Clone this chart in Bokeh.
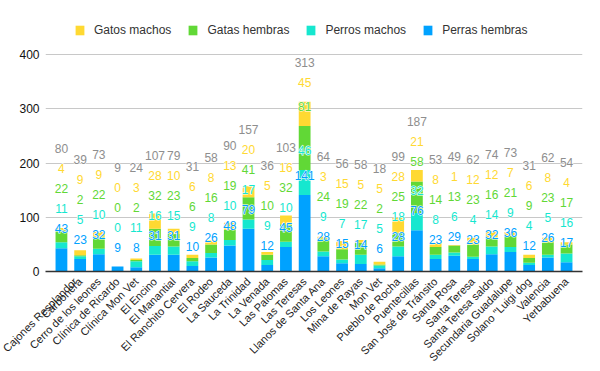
import math
from bokeh.plotting import figure
from bokeh.models import (FactorRange, Range1d, FixedTicker, Legend, LegendItem,
                          ColumnDataSource)
from bokeh.embed import file_html
from bokeh.resources import INLINE
from bokeh.core.properties import value

categories = [
    "Cajones Resplandor", "Carbonera", "Cerro de los leones", "Clínica de Ricardo",
    "Clínica Mon Vet", "El Encino", "El Manantial", "El Ranchito Cervera",
    "El Rodeo", "La Sauceda", "La Trinidad", "La Venada", "Las Palomas",
    "Las Teresas", "Llanos de Santa Ana", "Los Leones", "Mina de Rayas",
    "Mon Vet", "Pueblo de Rocha", "Puentecillas", "San José de Tránsito",
    "Santa Rosa", "Santa Teresa", "Santa Teresa saldo", "Secundaria Guadalupe",
    "Solano \"Luigi dog", "Valencia", "Yerbabuena",
]
perras_hembras = [43, 23, 32, 9, 8, 31, 31, 10, 26, 48, 79, 12, 45, 141, 28, 15, 14, 6, 28, 76, 23, 29, 23, 32, 36, 12, 26, 17]
perros_machos = [11, 5, 10, 0, 11, 16, 15, 9, 8, 10, 17, 9, 10, 46, 9, 7, 17, 5, 18, 32, 8, 6, 4, 14, 9, 4, 5, 16]
gatas_hembras = [22, 2, 22, 0, 2, 32, 23, 6, 16, 19, 41, 10, 32, 81, 24, 19, 22, 2, 25, 58, 14, 13, 23, 16, 21, 9, 23, 17]
gatos_machos = [4, 9, 9, 0, 3, 28, 10, 6, 8, 13, 20, 5, 16, 45, 3, 15, 5, 5, 28, 21, 8, 1, 12, 12, 7, 6, 8, 4]
totales = [80, 39, 73, 9, 24, 107, 79, 31, 58, 90, 157, 36, 103, 313, 64, 56, 58, 18, 99, 187, 53, 49, 62, 74, 73, 31, 62, 54]
y_ticks = [0, 100, 200, 300, 400]

series_names = ["Perras hembras", "Perros machos", "Gatas hembras", "Gatos machos"]
series_values = [perras_hembras, perros_machos, gatas_hembras, gatos_machos]
colors = ["#00A2FF", "#16E7CF", "#61D836", "#FFD932"]
total_color = "#8E8E8E"
FONT = "Liberation Sans"

W, H = 600, 371
B_LEFT, B_RIGHT, B_TOP, B_BOTTOM = 45, 18, 10, 100
AXIS_SPAN_PX = 217          # pixels between 0 and 400
Y_MAX = 400
FRAME_H = H - B_TOP - B_BOTTOM
ppu = AXIS_SPAN_PX / Y_MAX
Y_END = FRAME_H / ppu       # frame extends above 400 to host the legend

src = ColumnDataSource(dict(cat=categories, **{n: v for n, v in zip(series_names, series_values)}))

p = figure(width=W, height=H,
           x_range=FactorRange(*categories),
           y_range=Range1d(0, Y_END), output_backend="svg", toolbar_location=None,
           min_border_left=B_LEFT, min_border_right=B_RIGHT,
           min_border_top=B_TOP, min_border_bottom=B_BOTTOM)
p.x_range.range_padding = 0.352
p.x_range.range_padding_units = "absolute"
p.outline_line_color = None
p.background_fill_color = "white"

rs = p.vbar_stack(series_names, x="cat", width=0.63, color=colors, source=src,
                  line_color=None)

# labels with collision shift (as in reference)
off = 19.5 / ppu
gap = 20.0 / ppu
lx, ly, lt, lc = [], [], [], []
for i, cat in enumerate(categories):
    cum = 0
    prev = -1e9
    for s, vals in enumerate(series_values):
        cum += vals[i]
        y = max(cum + off, prev + gap)
        prev = y
        lx.append(cat); ly.append(y); lt.append(str(vals[i])); lc.append(colors[s])
    y = max(totales[i] + off, prev + gap)
    lx.append(cat); ly.append(y); lt.append(str(totales[i])); lc.append(total_color)

lsrc = ColumnDataSource(dict(x=lx, y=ly, text=lt, color=lc))
kw = dict(x="x", y="y", text="text", source=lsrc,
          text_font=value(FONT), text_font_size="12px", text_align="center",
          text_baseline="middle")
# white halo layer underneath
try:
    p.text(text_color="white", text_outline_color="white", **kw)
except Exception:
    pass
p.text(text_color="color", **kw)

# axes
p.yaxis.ticker = FixedTicker(ticks=y_ticks)
p.ygrid.ticker = FixedTicker(ticks=y_ticks)
p.yaxis.axis_line_color = None
p.yaxis.major_tick_line_color = None
p.yaxis.minor_tick_line_color = None
p.yaxis.major_tick_out = 0
p.yaxis.major_tick_in = 0
p.yaxis.major_label_standoff = 6
p.yaxis.major_label_text_font = FONT
p.yaxis.major_label_text_font_size = "12px"
p.yaxis.major_label_text_color = "#111111"

p.xaxis.axis_line_color = "#333333"
p.xaxis.axis_line_width = 1.5
p.xaxis.major_tick_line_color = None
p.xaxis.minor_tick_line_color = None
p.xaxis.major_tick_out = 0
p.xaxis.major_tick_in = 0
p.xaxis.major_label_orientation = math.pi / 4
p.xaxis.major_label_standoff = 8
p.xaxis.major_label_text_font = FONT
p.xaxis.major_label_text_font_size = "11px"
p.xaxis.major_label_text_color = "#222222"

p.xgrid.grid_line_color = None
p.ygrid.grid_line_color = "#C8C8C8"
p.ygrid.grid_line_width = 1

items = [LegendItem(label=series_names[k], renderers=[rs[k]]) for k in [3, 2, 1, 0]]
legend = Legend(items=items, orientation="horizontal", location=(29, 234),
                label_text_font=FONT, label_text_font_size="12px",
                label_text_color="#333333", glyph_width=11, glyph_height=12,
                label_standoff=9, spacing=16, padding=0, margin=0,
                border_line_color=None, background_fill_alpha=0)
p.add_layout(legend, "center")

open("out.html", "w").write(file_html(p, INLINE))
